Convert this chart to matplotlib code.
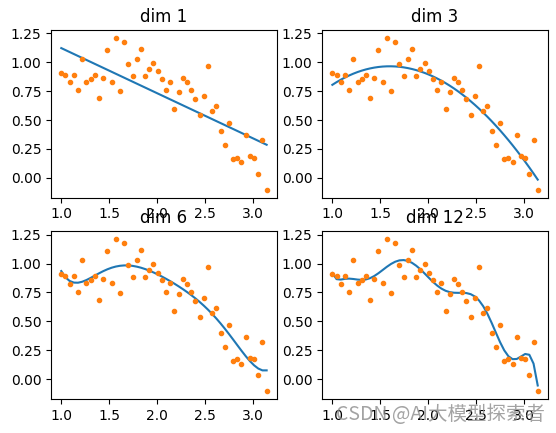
import numpy as np
import matplotlib
matplotlib.use("Agg")
import matplotlib.pyplot as plt

# sample positions (evenly spaced from 1 to pi, 50 samples)
x_start = 1.0
x_end = 3.1416
n_points = 50

y_values = [0.911, 0.894, 0.825, 0.894, 0.756, 1.032, 0.833, 0.859, 0.894, 0.687,
            0.868, 1.109, 0.833, 1.213, 0.747, 1.178, 0.989, 0.885, 1.032, 1.118,
            0.885, 0.945, 0.997, 0.920, 0.859, 0.756, 0.833, 0.592, 0.739, 0.868,
            0.825, 0.756, 0.678, 0.540, 0.704, 0.971, 0.575, 0.618, 0.402, 0.282,
            0.471, 0.161, 0.170, 0.135, 0.368, 0.187, 0.170, 0.032, 0.325, -0.106]

degrees = [1, 3, 6, 12]
titles = ["dim 1", "dim 3", "dim 6", "dim 12"]

x = np.linspace(x_start, x_end, n_points)
y = np.array(y_values)

fig = plt.figure(figsize=(5.56, 4.33), dpi=100)
W, H = 556.0, 433.0
fig.subplots_adjust(left=51 / W, right=548 / W, bottom=1 - 399 / H, top=1 - 30 / H,
                    wspace=0.2, hspace=0.2)
axes = fig.subplots(2, 2).ravel()

for ax, deg, title in zip(axes, degrees, titles):
    poly = np.polynomial.Polynomial.fit(x, y, deg)
    ax.plot(x, poly(x))
    ax.plot(x, y, '.')
    ax.set_title(title)

fig.text(336 / W, 1 - 414 / H, "CSDN @AI大模型探索者", fontsize=14,
         color=(0.55, 0.55, 0.55), alpha=0.8, va='center', ha='left',
         family=['Noto Sans CJK SC', 'DejaVu Sans'])

fig.savefig("out.png", dpi=100)
